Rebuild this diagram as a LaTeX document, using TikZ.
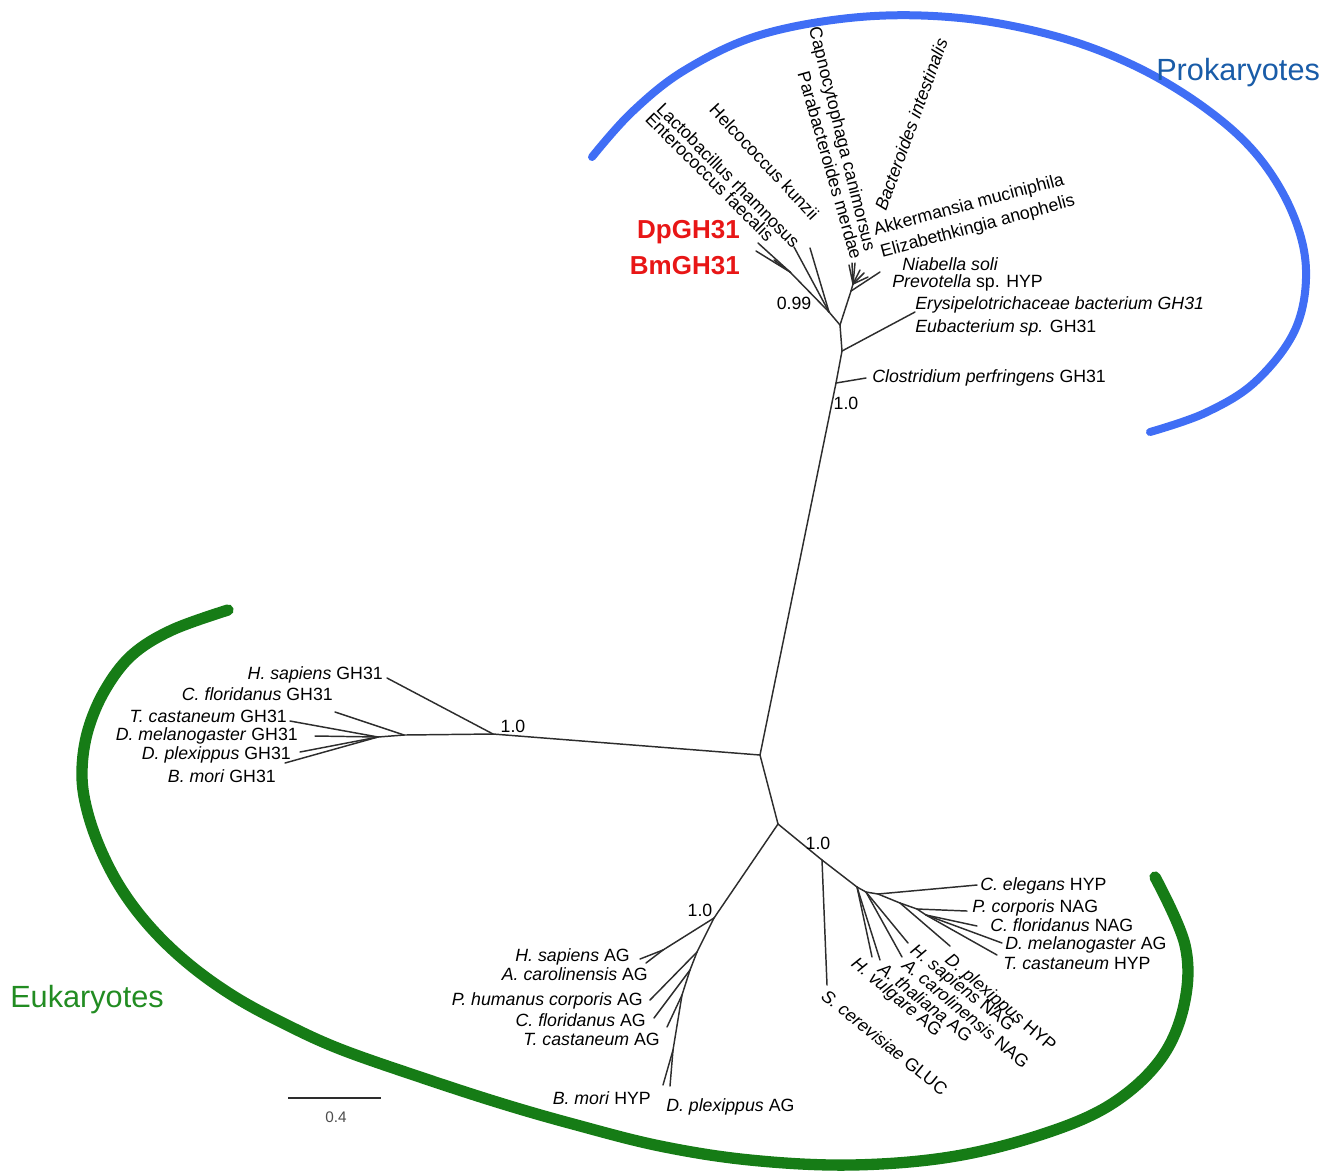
\documentclass[tikz,border=0pt]{standalone}
\usepackage{fontspec}
\setmainfont{Liberation Sans}
\definecolor{proarc}{RGB}{64,110,245}
\definecolor{protext}{RGB}{25,92,168}
\definecolor{euarc}{RGB}{22,124,22}
\definecolor{eutext}{RGB}{34,140,34}
\definecolor{gred}{RGB}{232,22,22}
\definecolor{treeline}{RGB}{45,45,45}
\begin{document}
\begin{tikzpicture}[x=0.75pt,y=-0.75pt,
  br/.style={draw=treeline, line width=1.1pt, line cap=round, line join=round},
  lab/.style={inner sep=0pt, font=\fontsize{13.3}{15}\selectfont},
  boot/.style={inner sep=0pt, font=\fontsize{13.3}{15}\selectfont},
  big/.style={inner sep=0pt, font=\fontsize{23}{26}\selectfont},
  redlab/.style={inner sep=0pt, text=gred, font=\bfseries\fontsize{19.5}{22}\selectfont}]
\useasboundingbox (0,0) rectangle (1333,1172);

% ---------- arcs ----------
\draw[proarc, line width=6pt, line cap=round] plot[smooth, tension=0.6] coordinates {
 (592,157) (632,112) (685,70) (760,35) (860,17) (960,18) (1055,36) (1135,66)
 (1205,108) (1257,155) (1292,212) (1306,270) (1295,330) (1255,382) (1205,413) (1150,432)};
\draw[euarc, line width=8.5pt, line cap=round] plot[smooth, tension=0.6] coordinates {
 (228,610) (172,630) (132,655) (105,690) (88,730) (82,770) (86,806) (100,848)
 (122,890) (152,929) (190,965) (235,997) (285,1024) (340,1049) (420,1077)
 (500,1103) (573,1124) (660,1146) (750,1160) (850,1165) (950,1157) (1040,1135)
 (1110,1105) (1160,1060) (1184,1005) (1185,945) (1155,877)};

\node[big, text=protext, anchor=west] (prok) at (1156,73) {Prokaryotes};
\node[big, text=eutext, anchor=west] (euk) at (10,1000) {Eukaryotes};

% ---------- prokaryote part ----------
\coordinate (C0) at (760,755);
\coordinate (P1) at (836,383);
\coordinate (P2) at (842,351);
\coordinate (P3) at (840,325);
\coordinate (tClo) at (866,378);
\coordinate (tEry) at (915,312);
\coordinate (F1) at (829,312);
\coordinate (F2) at (790,272);
\coordinate (tHel) at (810,248);
\coordinate (tLac) at (794,247);
\coordinate (tEnt) at (758,243);
\coordinate (tDp) at (756,251);
\coordinate (tBm) at (774,260);
\coordinate (B1) at (851,291);
\coordinate (B2) at (853,284);
\coordinate (tPar) at (849,265);
\coordinate (tCap) at (852,263);
\coordinate (tBac) at (855,263);
\coordinate (tAkk) at (860,270);
\coordinate (tEli) at (864,273);
\coordinate (tNia) at (868,277);
\coordinate (tPre) at (880,272);

\draw[br] (C0) -- (P1);
\draw[br] (P1) -- (P2);
\draw[br] (P2) -- (P3);
\draw[br] (P1) -- (tClo);
\draw[br] (P2) -- (tEry);
\draw[br] (P3) -- (F1);
\draw[br] (F1) -- (tHel);
\draw[br] (F1) -- (tLac);
\draw[br] (F1) -- (F2);
\draw[br] (F2) -- (tEnt);
\draw[br] (F2) -- (tDp);
\draw[br] (F2) -- (tBm);
\draw[br] (P3) -- (B1);
\draw[br] (B1) -- (tPre);
\draw[br] (B1) -- (B2);
\draw[br] (B2) -- (tPar);
\draw[br] (B2) -- (tCap);
\draw[br] (B2) -- (tBac);
\draw[br] (B2) -- (tAkk);
\draw[br] (B2) -- (tEli);
\draw[br] (B2) -- (tNia);

\node[boot] (b1) at (846,403) {1.0};
\node[boot] (b2) at (794,303) {0.99};

\node[lab,anchor=west] (lClo) at (872,378) {\textit{Clostridium perfringens} GH31};
\node[lab,anchor=west] (lEry) at (915,305) {\textit{Erysipelotrichaceae bacterium GH31}};
\node[lab,anchor=west] (lEub) at (915,328) {\textit{Eubacterium sp.} GH31};
\node[lab,anchor=west] (lNia) at (902,264) {\textit{Niabella soli}};
\node[lab,anchor=west] (lPre) at (892,283) {\textit{Prevotella} sp. HYP};
\node[lab,anchor=east,rotate=-45] (lEnt) at (771,238) {Enterococcus faecalis};
\node[lab,anchor=east,rotate=-45.5] (lLac) at (797,245) {Lactobacillus rhamnosus};
\node[lab,anchor=east,rotate=-47] (lHel) at (816,217) {Helcococcus kunzii};
\node[lab,anchor=east,rotate=-76] (lCap) at (869,251) {Capnocytophaga canimorsus};
\node[lab,anchor=east,rotate=-74] (lPar) at (857,259) {Parabacteroides merdae};
\node[lab,anchor=west,rotate=70] (lBac) at (880,210) {\textit{Bacteroides intestinalis}};
\node[lab,anchor=west,rotate=15] (lAkk) at (874,231) {Akkermansia muciniphila};
\node[lab,anchor=west,rotate=15] (lEli) at (881,253) {Elizabethkingia anophelis};
\node[redlab,anchor=east] (dp) at (740,232) {DpGH31};
\node[redlab,anchor=east] (bm) at (740,266) {BmGH31};

% ---------- eukaryote GH31 ----------
\coordinate (E1) at (493,734);
\coordinate (E2) at (404,735);
\coordinate (E3) at (378,737);
\coordinate (tHsG) at (387,678);
\coordinate (tCfG) at (335,712);
\coordinate (tTcG) at (290,721);
\coordinate (tDmG) at (315,736);
\coordinate (tDpG) at (300,752);
\coordinate (tBmG) at (285,763);
\draw[br] (C0) -- (E1);
\draw[br] (E1) -- (E2);
\draw[br] (E2) -- (E3);
\draw[br] (E1) -- (tHsG);
\draw[br] (E2) -- (tCfG);
\draw[br] (E3) -- (tTcG);
\draw[br] (E3) -- (tDmG);
\draw[br] (E3) -- (tDpG);
\draw[br] (E3) -- (tBmG);
\node[boot] (b3) at (513,726) {1.0};
\node[lab,anchor=east] (lHsG) at (383,675) {\textit{H. sapiens} GH31};
\node[lab,anchor=east] (lCfG) at (333,694) {\textit{C. floridanus} GH31};
\node[lab,anchor=east] (lTcG) at (287,716) {\textit{T. castaneum} GH31};
\node[lab,anchor=east] (lDmG) at (298,736) {\textit{D. melanogaster} GH31};
\node[lab,anchor=east] (lDpG) at (291,755) {\textit{D. plexippus} GH31};
\node[lab,anchor=east] (lBmG) at (276,776) {\textit{B. mori} GH31};

% ---------- eukaryote AG ----------
\coordinate (D0) at (778,824);
\coordinate (A0) at (714,918);
\coordinate (A1) at (663,950);
\coordinate (A2) at (697,952);
\coordinate (A3) at (690,970);
\coordinate (A4) at (682,995);
\coordinate (A5) at (673,1050);
\coordinate (tHsA) at (640,959);
\coordinate (tAcA) at (646,963);
\coordinate (tPhA) at (650,1000);
\coordinate (tCfA) at (654,1018);
\coordinate (tTcA) at (667,1027);
\coordinate (tBmH) at (663,1085);
\coordinate (tDpA) at (670,1086);
\draw[br] (C0) -- (D0);
\draw[br] (D0) -- (A0);
\draw[br] (A0) -- (A1);
\draw[br] (A1) -- (tHsA);
\draw[br] (A1) -- (tAcA);
\draw[br] (A0) -- (A2);
\draw[br] (A2) -- (tPhA);
\draw[br] (A2) -- (A3);
\draw[br] (A3) -- (tCfA);
\draw[br] (A3) -- (A4);
\draw[br] (A4) -- (tTcA);
\draw[br] (A4) -- (A5);
\draw[br] (A5) -- (tBmH);
\draw[br] (A5) -- (tDpA);
\node[boot] (b4) at (700,910) {1.0};
\node[lab,anchor=east] (lHsA) at (630,957) {\textit{H. sapiens} AG};
\node[lab,anchor=east] (lAcA) at (648,974) {\textit{A. carolinensis} AG};
\node[lab,anchor=east] (lPhA) at (643,1001) {\textit{P. humanus corporis} AG};
\node[lab,anchor=east] (lCfA) at (646,1020) {\textit{C. floridanus} AG};
\node[lab,anchor=east] (lTcA) at (660,1039) {\textit{T. castaneum} AG};
\node[lab,anchor=east] (lBmH) at (651,1098) {\textit{B. mori} HYP};
\node[lab,anchor=west] (lDpA) at (666,1107) {\textit{D. plexippus} AG};

% ---------- eukaryote NAG ----------
\coordinate (N1) at (822,860);
\coordinate (N2) at (857,887);
\coordinate (N2b) at (866,892);
\coordinate (N3) at (878,894);
\coordinate (N4) at (900,903);
\coordinate (N5) at (917,909);
\coordinate (N6) at (926,915);
\coordinate (tSc) at (827,985);
\coordinate (tHv) at (872,957);
\coordinate (tAt) at (880,960);
\coordinate (tAcN) at (902,957);
\coordinate (tHsN) at (908,943);
\coordinate (tCe) at (977,885);
\coordinate (tDpH) at (950,946);
\coordinate (tPc) at (967,911);
\coordinate (tCfN) at (977,926);
\coordinate (tDmA) at (1002,943);
\coordinate (tTcH) at (997,955);
\draw[br] (D0) -- (N1);
\draw[br] (N1) -- (tSc);
\draw[br] (N1) -- (N2);
\draw[br] (N2) -- (tHv);
\draw[br] (N2) -- (tAt);
\draw[br] (N2) -- (N2b);
\draw[br] (N2b) -- (tAcN);
\draw[br] (N2b) -- (tHsN);
\draw[br] (N2b) -- (N3);
\draw[br] (N3) -- (tCe);
\draw[br] (N3) -- (N4);
\draw[br] (N4) -- (tDpH);
\draw[br] (N4) -- (N5);
\draw[br] (N5) -- (tPc);
\draw[br] (N5) -- (N6);
\draw[br] (N6) -- (tCfN);
\draw[br] (N6) -- (tDmA);
\draw[br] (N6) -- (tTcH);
\node[boot] (b5) at (818,843) {1.0};
\node[lab,anchor=west] (lCe) at (980,886) {\textit{C. elegans} HYP};
\node[lab,anchor=west] (lPc) at (972,908) {\textit{P. corporis} NAG};
\node[lab,anchor=west] (lCfN) at (990,925) {\textit{C. floridanus} NAG};
\node[lab,anchor=west] (lDmA) at (1005,945) {\textit{D. melanogaster} AG};
\node[lab,anchor=west] (lTcH) at (1003,963) {\textit{T. castaneum} HYP};
\node[lab,anchor=west,rotate=-39] (lSc) at (824,993) {\textit{S. cerevisiae} GLUC};
\node[lab,anchor=west,rotate=-40] (lHv) at (853,962) {\textit{H. vulgare} AG};
\node[lab,anchor=west,rotate=-39] (lAt) at (881,966) {\textit{A. thaliana} AG};
\node[lab,anchor=west,rotate=-40] (lAcN) at (905,962) {\textit{A. carolinensis} NAG};
\node[lab,anchor=west,rotate=-38.5] (lHsN) at (912,949) {\textit{H. sapiens} NAG};
\node[lab,anchor=west,rotate=-40.5] (lDpH) at (947,958) {\textit{D. plexippus} HYP};

% ---------- scale bar ----------
\coordinate (sb1) at (288,1098);
\coordinate (sb2) at (381,1098);
\draw[draw=treeline, line width=1.5pt] (sb1) -- (sb2);
\node[inner sep=0pt, text=black!70, font=\fontsize{11.5}{13}\selectfont] (sbl) at (336,1117) {0.4};
\end{tikzpicture}
\end{document}
